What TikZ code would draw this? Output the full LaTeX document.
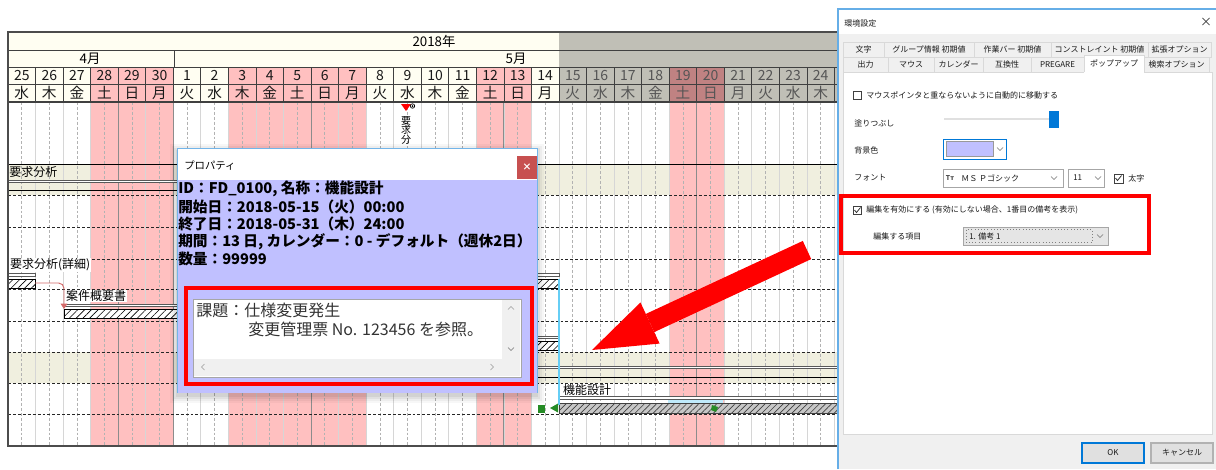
\documentclass[tikz,border=0pt]{standalone}
\usepackage{fontspec}
\setmainfont{Noto Sans CJK JP}
\usetikzlibrary{patterns.meta,arrows.meta}

\definecolor{hdrcream}{HTML}{FFFEF2}
\definecolor{hdrgray}{HTML}{C0BFB6}
\definecolor{hdrgraytext}{HTML}{555555}
\definecolor{offpink}{HTML}{FFC0C0}
\definecolor{offdark}{HTML}{C08282}
\definecolor{grpcream}{HTML}{F0EFDF}
\definecolor{gridline}{HTML}{404040}
\definecolor{dayline}{HTML}{D6D6D6}
\definecolor{weekline}{HTML}{8C8C8C}
\definecolor{popbg}{HTML}{C0C0FF}
\definecolor{winblue}{HTML}{0078D7}
\definecolor{dlgbg}{HTML}{F0F0F0}
\definecolor{tabline}{HTML}{D9D9D9}
\definecolor{linkred}{HTML}{D46A6A}
\definecolor{selgreen}{HTML}{268C26}
\definecolor{markred}{HTML}{FF0000}
\definecolor{closered}{HTML}{C75050}

\newcommand\fsz[1]{\fontsize{#1}{#1}\selectfont}
\newcommand\wday[1]{\ifcase#1 水\or 木\or 金\or 土\or 日\or 月\or 火\fi}
\newcommand\chevdown[2]{\draw[black!55, line width=0.5pt] (#1-3,#2-1.5) -- (#1,#2+1.5) -- (#1+3,#2-1.5);}
\newcommand\chevup[2]{\draw[black!40, line width=0.5pt] (#1-3,#2+1.5) -- (#1,#2-1.5) -- (#1+3,#2+1.5);}
\newcommand\chevleft[2]{\draw[black!40, line width=0.5pt] (#1+1.5,#2-3) -- (#1-1.5,#2) -- (#1+1.5,#2+3);}
\newcommand\chevright[2]{\draw[black!40, line width=0.5pt] (#1-1.5,#2-3) -- (#1+1.5,#2) -- (#1-1.5,#2+3);}
\newcommand\chkmark[2]{\draw[black!80, line width=0.6pt] (#1+1.5,#2+4) -- (#1+3.5,#2+6.5) -- (#1+7.5,#2+1.5);}

\begin{document}
\begin{tikzpicture}[x=0.75pt, y=-0.75pt,
	datetext/.style={font=\fsz{10.5pt}, inner sep=0pt},
	daytext/.style={font=\fsz{11pt}, inner sep=0pt},
	hdrtext/.style={font=\fsz{10pt}, inner sep=0pt},
	barlabel/.style={font=\fsz{9pt}, anchor=west, inner sep=0.6pt, fill=white},
	thinbar/.style={draw=black!65, fill=white, line width=0.5pt},
	hatchbar/.style={preaction={fill=white}, draw=black, line width=0.5pt, pattern={Lines[angle=45,distance=3.6pt,line width=0.45pt]}},
	selbar/.style={preaction={fill=black!22}, draw=black!75, line width=0.5pt, pattern={Lines[angle=45,distance=3.2pt,line width=0.5pt]}, pattern color=black!75},
	rowline/.style={black!85, line width=0.6pt, dash pattern=on 2.2pt off 1.5pt},
	poptext/.style={font=\fsz{11pt}\bfseries, anchor=west, inner sep=0pt},
	memotext/.style={font=\fsz{12pt}, anchor=west, inner sep=0pt, text=black!80},
	dlgtext/.style={font=\fsz{6pt}, anchor=west, inner sep=0pt, text=black!90},
	tabtext/.style={font=\fsz{6pt}, inner sep=0pt, text=black!90},
	chkbox/.style={draw=black!75, fill=white, line width=0.5pt}]
	\useasboundingbox (0,0) rectangle (1216,469);
	\clip (0,0) rectangle (1216,469);
	
	% gantt background
	\fill[hdrcream] (8,32) rectangle (838,102);
	\fill[white] (8,102) rectangle (838,446);
	\fill[grpcream] (8,164) rectangle (838,195);
	\fill[grpcream] (8,352) rectangle (838,383);
	\foreach \i in {3,4,5,8,9,10,11,12,17,18,24,25}
		\fill[offpink] ({8+\i*27.55},67) rectangle ({8+(\i+1)*27.55},446);
	\fill[hdrgray] (559,32) rectangle (838,102);
	\foreach \i in {24,25}
		\fill[offdark] ({8+\i*27.55},67) rectangle ({8+(\i+1)*27.55},102);
	
	\begin{scope}
		\clip (8,32) rectangle (838,446);
		% grid
		\foreach \i in {1,...,31}
			\draw[dayline, line width=0.6pt] ({8+\i*27.55},102) -- ({8+\i*27.55},446);
		\foreach \i in {0,...,30}
			\draw[black!30, line width=0.5pt, dash pattern=on 2.2pt off 1.5pt] ({8+(\i+0.5)*27.55},102) -- ({8+(\i+0.5)*27.55},446);
		\foreach \i in {4,6,11,18,25}
			\draw[weekline, line width=0.7pt] ({8+\i*27.55},102) -- ({8+\i*27.55},446);
		\draw[black, line width=0.7pt] (8,164) -- (838,164);
		\foreach \y in {195,227,259,289,321,352,383,414}
			\draw[rowline] (8,\y) -- (838,\y);
		
		% header
		\foreach \i in {1,...,31}
			\draw[gridline, line width=0.6pt] ({8+\i*27.55},67) -- ({8+\i*27.55},102);
		\draw[gridline, line width=0.6pt] (174,50) -- (174,67);
		\foreach \y in {50,67,84}
			\draw[gridline, line width=0.6pt] (8,\y) -- (838,\y);
		\draw[gridline, line width=1pt] (8,102) -- (838,102);
		\node[hdrtext] (year) at (434,41) {2018年};
		\node[hdrtext] (apr) at (90,58.5) {4月};
		\node[hdrtext] (may) at (516,58.5) {5月};
		\foreach \i in {0,...,30}{
			\pgfmathtruncatemacro\dd{\i<6 ? 25+\i : \i-5}
			\pgfmathtruncatemacro\ww{mod(\i,7)}
			\ifnum\i>19\relax\def\tc{hdrgraytext}\else\def\tc{black!90}\fi
			\node[datetext, text=\tc] (d\i) at ({8+(\i+0.5)*27.55},75.5) {\dd};
			\node[daytext, text=\tc] (w\i) at ({8+(\i+0.5)*27.55},93) {\wday{\ww}};
		}
	\end{scope}
	
	% milestone
	\fill[markred] (401,104) -- (411,104) -- (406,111) -- cycle;
	\draw[black, line width=0.5pt] (412.5,106) circle (2.2);
	\fill[black] (412.5,106) circle (1);
	\node[font=\fsz{7.5pt}, align=center, inner sep=0pt, anchor=north] (msname) at (406,116) {要\\[-0.3pt]求\\[-0.3pt]分};
	
	% bars
	\draw[thinbar] (8,180) rectangle (300,182.5);
	\draw[black, line width=0.7pt] (8,190) -- (300,190);
	\node[anchor=west, font=\fsz{9pt}, inner sep=0pt] (grp1) at (9,172) {要求分析};
	
	\draw[thinbar] (8,273.5) rectangle (35,276);
	\draw[hatchbar] (8,279) rectangle (35,288);
	\node[barlabel] (task1) at (9,265) {要求分析(詳細)};
	\draw[thinbar] (450,273.5) rectangle (559,276);
	\draw[hatchbar] (450,279) rectangle (559,288);
	
	\draw[thinbar] (64,304) rectangle (300,306.5);
	\draw[hatchbar] (64,309) rectangle (300,318);
	\node[barlabel] (task2) at (65,296) {案件概要書};
	\coordinate (t1end) at (35,283);
	\coordinate (t2start) at (64,309);
	\draw[linkred, line width=0.7pt, rounded corners=4pt, -{Triangle[length=4pt,width=5pt]}] (t1end) -| (t2start);
	
	\draw[thinbar] (450,336) rectangle (559,338.5);
	\draw[hatchbar] (450,341) rectangle (559,350);
	
	\draw[thinbar] (450,366) rectangle (838,368.5);
	\draw[black, line width=0.7pt] (450,377) -- (838,377);
	
	\draw[thinbar] (559,396) rectangle (838,399);
	\draw[selbar] (559,403) rectangle (838,413);
	\node[barlabel] (task3) at (562,390) {機能設計};
	\draw[cyan!60, line width=0.8pt] (559,279) -- (559,405);
	\fill[cyan!25] (668,400) rectangle (723,403);
	\fill[selgreen] (538,405) rectangle (545,413);
	\fill[selgreen] (550,408) -- (558,403.5) -- (558,412.5) -- cycle;
	\fill[selgreen] (712,405) -- (718,407) -- (716,412) -- (711,410) -- cycle;
	
	% border
	\draw[black!70, line width=1.5pt] (838,32) -- (8,32) -- (8,446) -- (838,446);
	
	% arrow
	\coordinate (arrtail) at (807,250);
	\coordinate (arrtip) at (592,350);
	\draw[markred, line width=15pt, -{Triangle[length=48pt,width=34pt,line width=0pt]}] (arrtail) -- (arrtip);
	
	% popup
	\foreach \s/\o in {7/0.03,5/0.04,3/0.05,1/0.06}
		\fill[black, opacity=\o] (177-\s,148-\s+3) rectangle (537+\s,393+\s+3);
	\fill[white] (177,148) rectangle (537,180);
	\fill[popbg] (177,180) rectangle (537,393);
	\draw[winblue!55, line width=0.6pt] (177,393) -- (177,148) -- (537,148) -- (537,393);
	\node[font=\fsz{7.8pt}, anchor=west, inner sep=0pt] (poptitle) at (184,166) {プロパティ};
	\fill[closered] (517,156) rectangle (537,179);
	\node[font=\fsz{7pt}\bfseries, text=white, inner sep=0pt] (popclose) at (527,167.5) {×};
	\node[poptext] (pl1) at (178,189) {ID：FD\_0100, 名称：機能設計};
	\node[poptext] (pl2) at (178,207) {開始日：2018-05-15（火）00:00};
	\node[poptext] (pl3) at (178,224) {終了日：2018-05-31（木）24:00};
	\node[poptext] (pl4) at (178,242) {期間：13 日, カレンダー：0 - デフォルト（週休2日）};
	\node[poptext] (pl5) at (178,259) {数量：99999};
	\draw[markred, line width=3pt] (186,288) rectangle (532,384);
	\draw[black!35, fill=white, line width=0.6pt] (193,299) rectangle (521,377);
	\fill[dlgbg] (194,359) rectangle (520,376);
	\fill[dlgbg] (502,300) rectangle (520,359);
	\chevup{511}{308}
	\chevdown{511}{349}
	\chevleft{203}{367}
	\chevright{492}{367}
	\node[memotext] (memo1) at (196,310) {課題：仕様変更発生};
	\node[memotext] (memo2) at (248,329) {変更管理票 No. 123456 を参照。};
	
	% settings dialog
	\fill[dlgbg] (838,9) rectangle (1216,469);
	\fill[white] (838,9) rectangle (1216,34);
	\draw[winblue!60, line width=0.8pt] (838,469) -- (838,9) -- (1216,9);
	\node[dlgtext] (dlgtitle) at (844,23) {環境設定};
	\node[font=\fsz{9pt}, inner sep=0pt, text=black!80] (dlgclose) at (1206,22) {×};
	
	% tabs
	\foreach \a/\b/\t [count=\k] in {843/884/文字, 884/974/グループ情報 初期値, 974/1051/作業バー 初期値, 1051/1148/コンストレイント 初期値, 1148/1211/拡張オプション}{
		\draw[tabline, fill=dlgbg, line width=0.6pt] (\a,42) rectangle (\b,57);
		\node[tabtext] (taba\k) at ({(\a+\b)/2},49.5) {\t};
	}
	\foreach \a/\b/\t [count=\k] in {843/888/出力, 888/934/マウス, 934/983/カレンダー, 983/1031/互換性, 1031/1084/PREGARE, 1144/1209/検索オプション}{
		\draw[tabline, fill=dlgbg, line width=0.6pt] (\a,57) rectangle (\b,72);
		\node[tabtext] (tabb\k) at ({(\a+\b)/2},64.5) {\t};
	}
	\draw[tabline, fill=white, line width=0.6pt] (843,72) rectangle (1212,434);
	\fill[white] (1084,55) rectangle (1144,72.5);
	\draw[tabline, line width=0.6pt] (1084,72) -- (1084,55) -- (1144,55) -- (1144,72);
	\node[tabtext] (tabpop) at (1114,63.5) {ポップアップ};
	
	% options
	\draw[chkbox] (853,91) rectangle (861,99);
	\node[dlgtext] (movetext) at (866,95) {マウスポインタと重ならないように自動的に移動する};
	\node[dlgtext] (filltext) at (854,123) {塗りつぶし};
	\fill[black!12] (944,117.5) rectangle (1058,120);
	\fill[winblue] (1049,111) rectangle (1059,128);
	\node[dlgtext] (bgtext) at (854,150) {背景色};
	\draw[winblue, line width=0.7pt, fill=white] (943,139) rectangle (1006,159);
	\draw[black!40, fill=popbg, line width=0.5pt] (946,141.5) rectangle (993,156.5);
	\chevdown{1000}{149}
	\node[dlgtext] (fonttext) at (854,178) {フォント};
	\draw[black!35, fill=white, line width=0.5pt] (943,169) rectangle (1063,187);
	\node[font=\fsz{5pt}\bfseries, inner sep=0pt, text=black!70] (fonticon) at (950,178) {Tт};
	\node[dlgtext] (fontname) at (961,178) {ＭＳ Ｐゴシック};
	\chevdown{1054}{178}
	\draw[black!35, fill=white, line width=0.5pt] (1068,169) rectangle (1104,187);
	\node[dlgtext] (fontsize) at (1073,178) {11};
	\chevdown{1098}{178}
	\draw[chkbox] (1114,174) rectangle (1123,183);
	\chkmark{1114}{174}
	\node[dlgtext] (boldtext) at (1128,178) {太字};
	
	\draw[markred, line width=3pt] (841,196) rectangle (1149,253);
	\draw[chkbox] (853,206) rectangle (861,214);
	\chkmark{853}{206}
	\node[dlgtext] (edittext) at (866,210) {編集を有効にする (有効にしない場合、1番目の備考を表示)};
	\node[dlgtext] (itemtext) at (873,236) {編集する項目};
	\draw[black!35, fill=black!10, line width=0.5pt] (963,227) rectangle (1108,245);
	\draw[black!50, line width=0.4pt, dotted] (966,229.5) rectangle (1092,242.5);
	\node[dlgtext] (itemname) at (969,236) {1. 備考 1};
	\chevdown{1100}{236}
	
	% buttons
	\draw[winblue, line width=1.2pt, fill=black!12] (1082,443) rectangle (1144,463);
	\node[tabtext] (okbtn) at (1113,453) {OK};
	\draw[black!30, line width=0.8pt, fill=black!12] (1151,443) rectangle (1213,463);
	\node[tabtext] (cancelbtn) at (1182,453) {キャンセル};
	
\end{tikzpicture}
\end{document}
